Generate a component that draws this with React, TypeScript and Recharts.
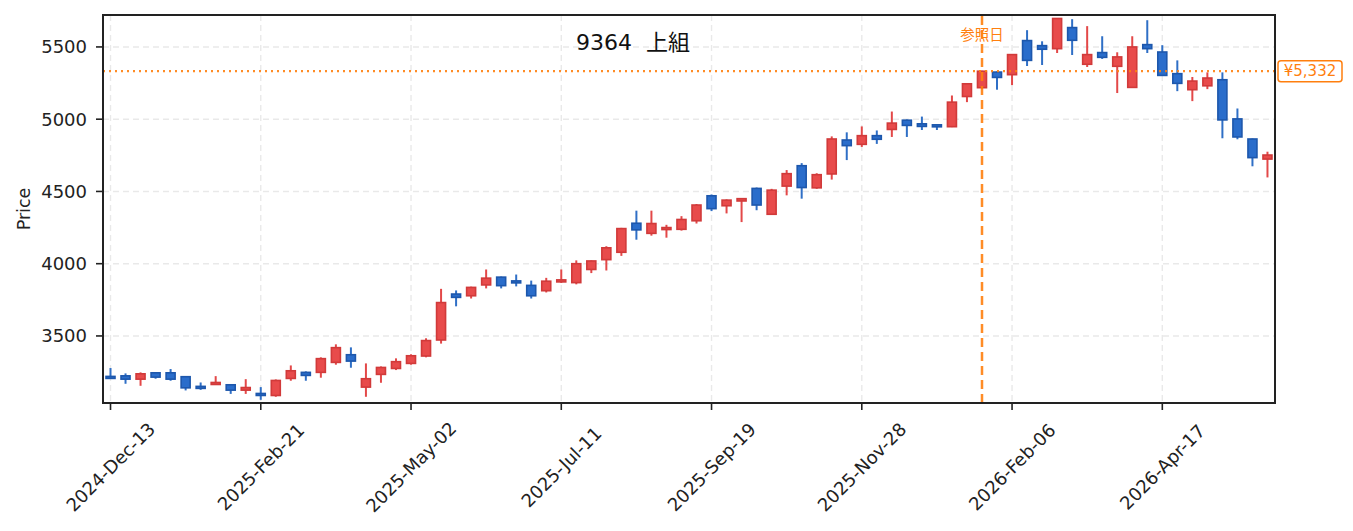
import { ComposedChart, Bar, XAxis, YAxis, CartesianGrid, ReferenceLine } from 'recharts';

const FONT = '"DejaVu Sans", "Noto Sans CJK JP", sans-serif';
const ORANGE = '#ff7f0e';

const dates = [
  '2024-Dec-13', '2024-Dec-20', '2024-Dec-27', '2025-Jan-03', '2025-Jan-10', '2025-Jan-17',
  '2025-Jan-24', '2025-Jan-31', '2025-Feb-07', '2025-Feb-14', '2025-Feb-21', '2025-Feb-28',
  '2025-Mar-07', '2025-Mar-14', '2025-Mar-21', '2025-Mar-28', '2025-Apr-04', '2025-Apr-11',
  '2025-Apr-18', '2025-Apr-25', '2025-May-02', '2025-May-09', '2025-May-16', '2025-May-23',
  '2025-May-30', '2025-Jun-06', '2025-Jun-13', '2025-Jun-20', '2025-Jun-27', '2025-Jul-04',
  '2025-Jul-11', '2025-Jul-18', '2025-Jul-25', '2025-Aug-01', '2025-Aug-08', '2025-Aug-15',
  '2025-Aug-22', '2025-Aug-29', '2025-Sep-05', '2025-Sep-12', '2025-Sep-19', '2025-Sep-26',
  '2025-Oct-03', '2025-Oct-10', '2025-Oct-17', '2025-Oct-24', '2025-Oct-31', '2025-Nov-07',
  '2025-Nov-14', '2025-Nov-21', '2025-Nov-28', '2025-Dec-05', '2025-Dec-12', '2025-Dec-19',
  '2025-Dec-26', '2026-Jan-02', '2026-Jan-09', '2026-Jan-16', '2026-Jan-23', '2026-Jan-30',
  '2026-Feb-06', '2026-Feb-13', '2026-Feb-20', '2026-Feb-27', '2026-Mar-06', '2026-Mar-13',
  '2026-Mar-20', '2026-Mar-27', '2026-Apr-03', '2026-Apr-10', '2026-Apr-17', '2026-Apr-24',
  '2026-May-01', '2026-May-08', '2026-May-15', '2026-May-22', '2026-May-29', '2026-Jun-05',
];

const opens = [
  3220, 3224, 3201, 3245, 3245, 3218, 3151, 3167, 3162, 3125, 3102, 3088, 3206, 3248, 3248, 3317,
  3370, 3146, 3234, 3275, 3310, 3361, 3472, 3790, 3778, 3853, 3907, 3881, 3850, 3813, 3874, 3869,
  3960, 4028, 4079, 4280, 4210, 4241, 4238, 4297, 4470, 4401, 4434, 4521, 4342, 4537, 4678, 4525,
  4621, 4856, 4826, 4886, 4929, 4993, 4968, 4961, 4948, 5157, 5218, 5326, 5308, 5544, 5509, 5488,
  5634, 5380, 5461, 5366, 5220, 5516, 5465, 5315, 5204, 5231, 5273, 5002, 4863, 4724,
];
const highs = [
  3278, 3241, 3248, 3250, 3271, 3222, 3178, 3222, 3167, 3201, 3146, 3199, 3296, 3255, 3352, 3442,
  3421, 3310, 3289, 3345, 3373, 3484, 3826, 3815, 3841, 3960, 3911, 3925, 3883, 3902, 3960, 4023,
  4022, 4121, 4248, 4367, 4367, 4269, 4329, 4413, 4479, 4445, 4452, 4527, 4518, 4648, 4696, 4626,
  4881, 4909, 4950, 4922, 5053, 4998, 5018, 4963, 5164, 5250, 5335, 5330, 5450, 5616, 5539, 5697,
  5692, 5644, 5574, 5463, 5574, 5685, 5512, 5407, 5292, 5324, 5324, 5074, 4866, 4775,
];
const lows = [
  3206, 3169, 3155, 3204, 3190, 3123, 3127, 3164, 3099, 3099, 3058, 3079, 3190, 3190, 3211, 3301,
  3280, 3079, 3176, 3264, 3301, 3352, 3447, 3705, 3759, 3829, 3829, 3843, 3759, 3801, 3867, 3857,
  3935, 3953, 4054, 4166, 4194, 4180, 4229, 4278, 4364, 4348, 4288, 4370, 4338, 4473, 4450, 4518,
  4582, 4717, 4808, 4829, 4877, 4877, 4925, 4925, 4945, 5118, 5212, 5204, 5236, 5368, 5375, 5458,
  5444, 5361, 5417, 5181, 5218, 5458, 5300, 5194, 5125, 5208, 4868, 4861, 4674, 4597,
];
const closes = [
  3216, 3201, 3238, 3215, 3201, 3141, 3147, 3178, 3125, 3143, 3092, 3192, 3259, 3227, 3343, 3419,
  3326, 3204, 3282, 3322, 3363, 3468, 3731, 3767, 3836, 3900, 3848, 3877, 3778, 3879, 3888, 4000,
  4019, 4110, 4243, 4234, 4278, 4250, 4306, 4406, 4381, 4440, 4450, 4406, 4509, 4623, 4527, 4616,
  4863, 4817, 4886, 4861, 4973, 4957, 4950, 4950, 5118, 5245, 5332, 5289, 5447, 5407, 5484, 5697,
  5546, 5447, 5428, 5431, 5500, 5488, 5303, 5248, 5264, 5285, 4995, 4877, 4734, 4752,
];

const tickDates = ['2024-Dec-13', '2025-Feb-21', '2025-May-02', '2025-Jul-11', '2025-Sep-19', '2025-Nov-28', '2026-Feb-06', '2026-Apr-17'];
const priceTicks = [3500, 4000, 4500, 5000, 5500];
const refDate = '2026-Jan-23';
const refClose = 5332;

const data = dates.map((date, i) => ({
  date,
  open: opens[i],
  high: highs[i],
  low: lows[i],
  close: closes[i],
}));

const Candle = (props: any) => {
  const { x, y, width, height, payload } = props;
  const { open, high, low, close } = payload;
  const top = Math.min(y, y + height);
  const h = Math.abs(height);
  const ppu = h / (high - low || 1);
  const cx = x + width / 2;
  const yOpen = top + (high - open) * ppu;
  const yClose = top + (high - close) * ppu;
  const up = close >= open;
  const bodyTop = Math.min(yOpen, yClose);
  const bodyH = Math.max(Math.abs(yOpen - yClose), 2);
  return (
    <g>
      <line x1={cx} x2={cx} y1={top} y2={top + h} stroke={up ? '#e34848' : '#2f6fc6'} strokeWidth={2} />
      <rect
        x={cx - 4.5}
        y={bodyTop}
        width={9}
        height={bodyH}
        fill={up ? '#e84b4b' : '#2a6dcb'}
        stroke={up ? '#d13a3a' : '#1d57ac'}
        strokeWidth={1.6}
      />
    </g>
  );
};

const DateTick = (props: any) => {
  const { x, y, payload } = props;
  const cy = y + 55;
  return (
    <text
      x={x}
      y={cy}
      transform={`rotate(-45 ${x} ${cy})`}
      textAnchor="middle"
      dominantBaseline="central"
      fontSize={18}
      fontFamily={FONT}
      fill="#222"
    >
      {payload.value}
    </text>
  );
};

const PriceTag = (props: any) => {
  const { x, y, width } = props.viewBox;
  const left = x + width + 3;
  return (
    <g>
      <rect x={left} y={y - 10.5} width={64} height={21} rx={3} fill="#fff" stroke={ORANGE} strokeWidth={1.5} />
      <text x={left + 32} y={y} textAnchor="middle" dominantBaseline="central" fontSize={15} fontFamily={FONT} fill={ORANGE}>
        ¥{refClose.toLocaleString('en-US')}
      </text>
    </g>
  );
};

const RefDayLabel = (props: any) => {
  const { x, y } = props.viewBox;
  return (
    <text x={x} y={y + 20} textAnchor="middle" dominantBaseline="central" fontSize={14.5} fontFamily={FONT} fill={ORANGE}>
      参照日
    </text>
  );
};

export default function App() {
  return (
    <div style={{ position: 'relative', width: 1353, height: 531, background: '#fff' }}>
      <style>{'body{margin:0}'}</style>
      <ComposedChart width={1353} height={531} data={data} margin={{ top: 15, right: 78, bottom: 0, left: 0 }}>
        <CartesianGrid stroke="#e9e9e9" strokeWidth={1.4} strokeDasharray="6 4" />
        <XAxis
          dataKey="date"
          ticks={tickDates}
          interval={0}
          height={128}
          tickSize={7}
          axisLine={false}
          tickLine={{ stroke: '#222', strokeWidth: 1.6 }}
          tick={<DateTick />}
        />
        <YAxis
          width={103}
          domain={[3036, 5721]}
          ticks={priceTicks}
          allowDataOverflow
          tickSize={7}
          tickMargin={9}
          axisLine={false}
          tickLine={{ stroke: '#222', strokeWidth: 1.6 }}
          tick={{ fontSize: 18, fill: '#222', fontFamily: FONT }}
          label={{
            value: 'Price',
            angle: -90,
            position: 'insideLeft',
            offset: 24,
            style: { textAnchor: 'middle', fontSize: 17.5, fill: '#222', fontFamily: FONT },
          }}
        />
        <Bar dataKey={(d: any) => [d.low, d.high]} barSize={9} shape={<Candle />} isAnimationActive={false} />
        <ReferenceLine
          y={refClose}
          stroke={ORANGE}
          strokeOpacity={0.9}
          strokeWidth={2.2}
          strokeDasharray="2 4"
          label={<PriceTag />}
        />
        <ReferenceLine
          x={refDate}
          stroke={ORANGE}
          strokeOpacity={0.9}
          strokeWidth={2.5}
          strokeDasharray="9 5"
          label={<RefDayLabel />}
        />
      </ComposedChart>
      <div
        style={{
          position: 'absolute',
          left: 102,
          top: 14,
          width: 1174,
          height: 390,
          border: '2px solid #222',
          boxSizing: 'border-box',
          pointerEvents: 'none',
        }}
      />
      <div
        style={{
          position: 'absolute',
          left: 633,
          top: 40,
          transform: 'translate(-50%, -50%)',
          fontSize: 22,
          fontFamily: FONT,
          color: '#111',
          whiteSpace: 'pre',
        }}
      >
        {'9364  上組'}
      </div>
    </div>
  );
}
